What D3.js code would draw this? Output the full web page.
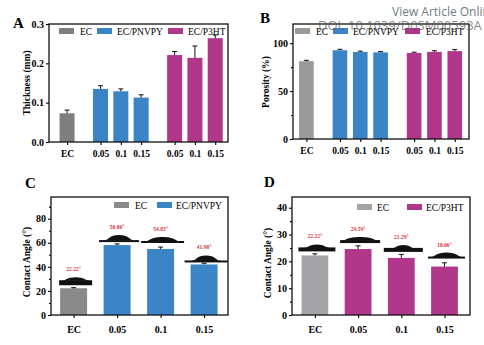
<!DOCTYPE html>
<html>
<head>
<meta charset="utf-8">
<script src="https://cdn.jsdelivr.net/npm/d3@7"></script>
<style>
  body { margin: 0; background: #fff; }
  svg { display: block; }
  .tick text { font-family: "Liberation Serif", "Times New Roman", serif; font-weight: bold; }
</style>
</head>
<body>
<svg id="fig" width="484" height="345"></svg>
<script>
// thickness / porosity films
const filmLabels = ["EC", "0.05", "0.1", "0.15", "0.05", "0.1", "0.15"];
const filmGroups = [0, 1, 1, 1, 2, 2, 2];
const thickness = [0.073, 0.135, 0.129, 0.113, 0.221, 0.214, 0.264];
const thicknessErr = [0.008, 0.008, 0.006, 0.007, 0.009, 0.03, 0.008];
const porosity = [81.2, 92.6, 90.8, 90.4, 89.8, 90.9, 91.7];
const porosityErr = [0.9, 1.0, 0.9, 0.8, 0.8, 1.2, 1.6];

// contact angles
const angleLabels = ["EC", "0.05", "0.1", "0.15"];
const angleGroupsPNVPY = [0, 1, 1, 1];
const angleGroupsP3HT = [0, 2, 2, 2];
const anglePNVPY = [22.22, 58.06, 54.83, 41.98];
const anglePNVPYErr = [0.5, 1.0, 1.6, 1.0];
const angleP3HT = [22.22, 24.59, 21.29, 18.06];
const angleP3HTErr = [0.6, 1.2, 1.3, 1.4];

const seriesNames = ["EC", "EC/PNVPY", "EC/P3HT"];
const blue = "#3b84c6", pink = "#b0378a";
const serif = "'Liberation Serif', 'Times New Roman', serif";

const svg = d3.select("#fig");

function drawPanel(o) {
  const g = svg.append("g");
  const w = o.box[2] - o.box[0], h = o.box[3] - o.box[1];
  const colors = [o.gray, blue, pink];

  const x = d3.scaleLinear().domain(o.xDomain).range([o.box[0], o.box[2]]);
  const y = d3.scaleLinear().domain([0, o.yMax]).range([o.box[3], o.box[1]]);
  const pos = o.labels.map((d, i) => o.slot(i));
  const bw = (x(1) - x(0)) * o.barFrac;

  // bars
  g.selectAll("rect.bar").data(o.values).join("rect")
    .attr("class", "bar")
    .attr("x", (d, i) => x(pos[i]) - bw / 2)
    .attr("y", d => y(d))
    .attr("width", bw)
    .attr("height", d => y(0) - y(d))
    .attr("fill", (d, i) => colors[o.groups[i]]);

  // error bars (upper half only)
  const eb = g.selectAll("g.err").data(o.values).join("g").attr("class", "err")
    .attr("stroke", "#111").attr("stroke-width", 1);
  eb.append("line")
    .attr("x1", (d, i) => x(pos[i])).attr("x2", (d, i) => x(pos[i]))
    .attr("y1", d => y(d)).attr("y2", (d, i) => y(d + o.errs[i]));
  eb.append("line")
    .attr("x1", (d, i) => x(pos[i]) - 2.5).attr("x2", (d, i) => x(pos[i]) + 2.5)
    .attr("y1", (d, i) => y(d + o.errs[i])).attr("y2", (d, i) => y(d + o.errs[i]));

  // axes
  const yAx = g.append("g").attr("transform", `translate(${o.box[0]},0)`)
    .call(d3.axisLeft(y).tickValues(o.yTicks).tickSize(3).tickSizeOuter(0).tickFormat(o.yFmt));
  if (o.yMinor) {
    g.append("g").attr("transform", `translate(${o.box[0]},0)`)
      .call(d3.axisLeft(y).tickValues(o.yMinor).tickSize(2).tickFormat(""))
      .select(".domain").remove();
  }
  const xAx = g.append("g").attr("transform", `translate(0,${o.box[3]})`)
    .call(d3.axisBottom(x).tickValues(pos).tickSize(3).tickSizeOuter(0)
      .tickFormat((d, i) => o.labels[i]));
  xAx.select(".domain").remove();
  yAx.select(".domain").remove();
  g.selectAll(".tick line").attr("stroke-width", 1.1);
  yAx.selectAll("text").attr("font-size", 10).attr("dx", "0.1em");
  xAx.selectAll("text").attr("font-size", o.xFont).attr("dy", o.xDy);

  g.append("rect")
    .attr("x", o.box[0]).attr("y", o.box[1]).attr("width", w).attr("height", h)
    .attr("fill", "none").attr("stroke", "#111").attr("stroke-width", 1.3);

  // axis title
  g.append("text")
    .attr("transform", `translate(${o.titleX},${o.titleY}) rotate(-90)`)
    .attr("text-anchor", "middle")
    .attr("font-family", serif).attr("font-weight", "bold").attr("font-size", 9.5)
    .text(o.title);

  // panel letter
  g.append("text").attr("x", o.letterPos[0]).attr("y", o.letterPos[1])
    .attr("font-family", serif).attr("font-weight", "bold").attr("font-size", 15)
    .text(o.letter);

  // legend
  const lg = g.selectAll("g.leg").data(o.legend).join("g").attr("class", "leg");
  lg.append("rect")
    .attr("x", d => d.rx).attr("y", o.legY).attr("width", 15).attr("height", 6)
    .attr("fill", d => colors[d.k]);
  lg.append("text")
    .attr("x", d => d.tx).attr("y", o.legY + 6.5)
    .attr("font-family", serif).attr("font-size", 9.5)
    .text(d => seriesNames[d.k]);

  return { g, x, y, pos, bw };
}

// droplet silhouettes and angle labels above contact-angle bars
function drawDroplets(p, values, errs, drops) {
  const { g, x, y, pos } = p;
  values.forEach((v, i) => {
    const d = drops[i];
    const cx = x(pos[i]) + 2;
    const base = y(v) - d.lift;
    const top = base - d.band;
    g.append("rect")
      .attr("x", cx - d.w / 2).attr("y", top)
      .attr("width", d.w).attr("height", d.band)
      .attr("fill", "#111");
    const r = d.dw / 2;
    g.append("path")
      .attr("d", `M${cx - r - 3},${top + 0.5} C${cx - r + 2},${top} ${cx - r + 2},${top - d.dh} ${cx},${top - d.dh}`
        + ` C${cx + r - 2},${top - d.dh} ${cx + r - 2},${top} ${cx + r + 3},${top + 0.5} Z`)
      .attr("fill", "#111");
    g.append("text")
      .attr("x", x(pos[i])).attr("y", top - d.dh - 6)
      .attr("text-anchor", "middle")
      .attr("font-family", serif).attr("font-weight", "bold").attr("font-size", 5.5)
      .attr("fill", "#d0363a")
      .text(v.toFixed(2) + "°");
  });
}

const filmSlot = i => i + 0.65 * filmGroups[i];
const angleSlot = i => i;

drawPanel({
  letter: "A", letterPos: [13, 28],
  box: [49, 24, 228, 142], xDomain: [-0.89, 7.93], yMax: 0.3,
  yTicks: [0, 0.1, 0.2, 0.3], yFmt: d3.format(".1f"),
  labels: filmLabels, groups: filmGroups, slot: filmSlot,
  values: thickness, errs: thicknessErr, barFrac: 0.74,
  gray: "#7f7f7f", xFont: 9.5, xDy: "0.95em",
  title: "Thickness (mm)", titleX: 30, titleY: 83,
  legY: 28, legend: [{ k: 0, rx: 59, tx: 80 }, { k: 1, rx: 97, tx: 117 }, { k: 2, rx: 168, tx: 188 }]
});

drawPanel({
  letter: "B", letterPos: [260, 23],
  box: [293, 24, 469, 139], xDomain: [-0.66, 8.0], yMax: 120,
  yTicks: [0, 50, 100], yMinor: [25, 75], yFmt: d3.format("d"),
  labels: filmLabels, groups: filmGroups, slot: filmSlot,
  values: porosity, errs: porosityErr, barFrac: 0.72,
  gray: "#9a9a9c", xFont: 9.5, xDy: "0.95em",
  title: "Porosity (%)", titleX: 269, titleY: 82,
  legY: 28, legend: [{ k: 0, rx: 295, tx: 316 }, { k: 1, rx: 333, tx: 353 }, { k: 2, rx: 405, tx: 426 }]
});

const pC = drawPanel({
  letter: "C", letterPos: [25, 188],
  box: [51, 197, 228, 315], xDomain: [-0.52, 3.55], yMax: 98,
  yTicks: [0, 20, 40, 60, 80], yMinor: [10, 30, 50, 70, 90], yFmt: d3.format("d"),
  labels: angleLabels, groups: angleGroupsPNVPY, slot: angleSlot,
  values: anglePNVPY, errs: anglePNVPYErr, barFrac: 0.62,
  gray: "#8a8a8a", xFont: 10, xDy: "1.2em",
  title: "Contact Angle (°)", titleX: 30, titleY: 262,
  legY: 202, legend: [{ k: 0, rx: 114, tx: 135 }, { k: 1, rx: 157, tx: 176 }]
});
drawDroplets(pC, anglePNVPY, anglePNVPYErr, [
  { w: 33, band: 5, lift: 3, dw: 22, dh: 3 },
  { w: 40, band: 2, lift: 3, dw: 24, dh: 5 },
  { w: 43, band: 2, lift: 6, dw: 29, dh: 4 },
  { w: 43, band: 2, lift: 2, dw: 23, dh: 5 }
]);

const pD = drawPanel({
  letter: "D", letterPos: [264, 187],
  box: [292, 197, 470, 315], xDomain: [-0.53, 3.59], yMax: 44,
  yTicks: [0, 10, 20, 30, 40], yMinor: [5, 15, 25, 35], yFmt: d3.format("d"),
  labels: angleLabels, groups: angleGroupsP3HT, slot: angleSlot,
  values: angleP3HT, errs: angleP3HTErr, barFrac: 0.62,
  gray: "#a4a4a6", xFont: 10, xDy: "1.2em",
  title: "Contact Angle (°)", titleX: 271, titleY: 263,
  legY: 204, legend: [{ k: 0, rx: 357, tx: 377 }, { k: 2, rx: 407, tx: 426 }]
});
drawDroplets(pD, angleP3HT, angleP3HTErr, [
  { w: 37, band: 4, lift: 4, dw: 20, dh: 3 },
  { w: 40, band: 3, lift: 6, dw: 30, dh: 3 },
  { w: 39, band: 4, lift: 6, dw: 18, dh: 3 },
  { w: 37, band: 2, lift: 8, dw: 25, dh: 4 }
]);

// journal page overlay along the top edge
svg.append("text").attr("x", 392).attr("y", 16)
  .attr("font-family", "'Open Sans', sans-serif").attr("font-size", 12)
  .attr("fill", "#6f7b87").text("View Article Online");
svg.append("text").attr("x", 318).attr("y", 30)
  .attr("font-family", "'Open Sans', sans-serif").attr("font-size", 13)
  .attr("fill", "#555").attr("fill-opacity", 0.7).text("DOI: 10.1039/D0SM00593A");
</script>
</body>
</html>
